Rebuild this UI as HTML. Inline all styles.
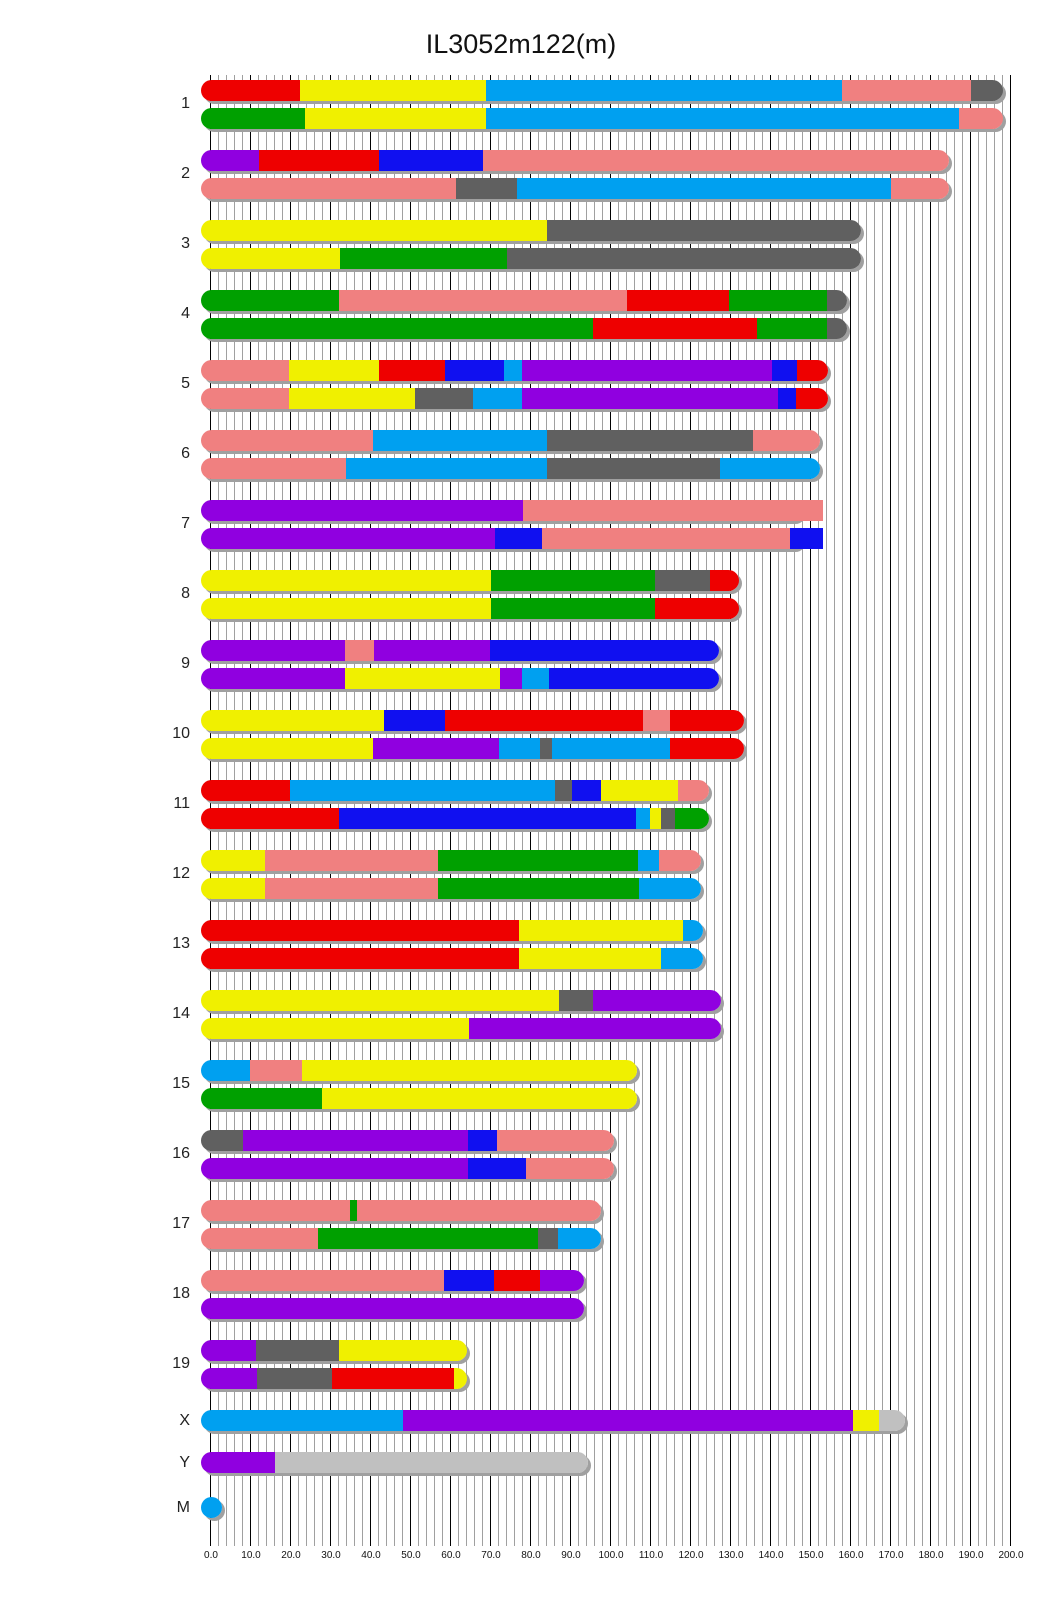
<!DOCTYPE html>
<html><head><meta charset="utf-8"><style>
body{margin:0;background:#fff;width:1040px;height:1616px;position:relative;overflow:hidden;font-family:"Liberation Sans",sans-serif}
.grid{position:absolute;left:210px;top:75px;width:802px;height:1471px;
background:repeating-linear-gradient(to right,#000 0 1px,transparent 1px 40px),repeating-linear-gradient(to right,#a0a0a0 0 1px,transparent 1px 8px)}
.bar{position:absolute;left:201px;height:21px;border-radius:10.5px;overflow:hidden;box-shadow:3px 3px 0 #a0a0a0;display:flex}
.bar i{display:block;height:100%;flex:none}
.bar i:last-child{flex:1}
.ext{position:absolute;height:21px}
.r{background:#ee0000}.y{background:#f0f000}.b{background:#00a0f0}.p{background:#f08080}.d{background:#606060}
.g{background:#00a000}.u{background:#1010f0}.v{background:#9000e0}.l{background:#c0c0c0}
.lab{position:absolute;right:850px;font-size:16px;color:#222;transform:translateY(-50%)}
.t{position:absolute;top:1550px;font-size:10px;width:40px;margin-left:-20px;text-align:center;color:#111}
h1{position:absolute;top:29px;left:0;width:1042px;text-align:center;margin:0;font-weight:normal;font-size:27px;color:#111}
</style></head><body>
<h1>IL3052m122(m)</h1>
<div class="grid"></div>

<div class="bar" style="top:80px;width:802px"><i class="r" style="width:99px"></i><i class="y" style="width:186px"></i><i class="b" style="width:356px"></i><i class="p" style="width:129px"></i><i class="d"></i></div>
<div class="bar" style="top:108px;width:802px"><i class="g" style="width:104px"></i><i class="y" style="width:181px"></i><i class="b" style="width:473px"></i><i class="p"></i></div>

<div class="bar" style="top:150px;width:748px"><i class="v" style="width:58px"></i><i class="r" style="width:120px"></i><i class="u" style="width:104px"></i><i class="p"></i></div>
<div class="bar" style="top:178px;width:748px"><i class="p" style="width:255px"></i><i class="d" style="width:61px"></i><i class="b" style="width:374px"></i><i class="p"></i></div>

<div class="bar" style="top:220px;width:660px"><i class="y" style="width:346px"></i><i class="d"></i></div>
<div class="bar" style="top:248px;width:660px"><i class="y" style="width:139px"></i><i class="g" style="width:167px"></i><i class="d"></i></div>

<div class="bar" style="top:290px;width:646px"><i class="g" style="width:138px"></i><i class="p" style="width:288px"></i><i class="r" style="width:102px"></i><i class="g" style="width:98px"></i><i class="d"></i></div>
<div class="bar" style="top:318px;width:646px"><i class="g" style="width:392px"></i><i class="r" style="width:164px"></i><i class="g" style="width:70px"></i><i class="d"></i></div>

<div class="bar" style="top:360px;width:627px"><i class="p" style="width:88px"></i><i class="y" style="width:90px"></i><i class="r" style="width:66px"></i><i class="u" style="width:59px"></i><i class="b" style="width:18px"></i><i class="v" style="width:250px"></i><i class="u" style="width:25px"></i><i class="r"></i></div>
<div class="bar" style="top:388px;width:627px"><i class="p" style="width:88px"></i><i class="y" style="width:126px"></i><i class="d" style="width:58px"></i><i class="b" style="width:49px"></i><i class="v" style="width:256px"></i><i class="u" style="width:18px"></i><i class="r"></i></div>

<div class="bar" style="top:430px;width:619px"><i class="p" style="width:172px"></i><i class="b" style="width:174px"></i><i class="d" style="width:206px"></i><i class="p"></i></div>
<div class="bar" style="top:458px;width:619px"><i class="p" style="width:145px"></i><i class="b" style="width:201px"></i><i class="d" style="width:173px"></i><i class="b"></i></div>

<div class="bar" style="top:500px;width:602px"><i class="v" style="width:322px"></i><i class="p"></i></div>
<div class="bar" style="top:528px;width:602px"><i class="v" style="width:294px"></i><i class="u" style="width:47px"></i><i class="p" style="width:249px"></i><i class="u"></i></div>
<div class="ext p" style="top:500px;left:780px;width:43px"></div>
<div class="ext u" style="top:528px;left:790px;width:33px"></div>

<div class="bar" style="top:570px;width:538px"><i class="y" style="width:290px"></i><i class="g" style="width:164px"></i><i class="d" style="width:55px"></i><i class="r"></i></div>
<div class="bar" style="top:598px;width:538px"><i class="y" style="width:290px"></i><i class="g" style="width:164px"></i><i class="r"></i></div>

<div class="bar" style="top:640px;width:518px"><i class="v" style="width:144px"></i><i class="p" style="width:29px"></i><i class="v" style="width:116px"></i><i class="u"></i></div>
<div class="bar" style="top:668px;width:518px"><i class="v" style="width:144px"></i><i class="y" style="width:155px"></i><i class="v" style="width:22px"></i><i class="b" style="width:27px"></i><i class="u"></i></div>

<div class="bar" style="top:710px;width:543px"><i class="y" style="width:183px"></i><i class="u" style="width:61px"></i><i class="r" style="width:198px"></i><i class="p" style="width:27px"></i><i class="r"></i></div>
<div class="bar" style="top:738px;width:543px"><i class="y" style="width:172px"></i><i class="v" style="width:126px"></i><i class="b" style="width:41px"></i><i class="d" style="width:12px"></i><i class="b" style="width:118px"></i><i class="r"></i></div>

<div class="bar" style="top:780px;width:508px"><i class="r" style="width:89px"></i><i class="b" style="width:265px"></i><i class="d" style="width:17px"></i><i class="u" style="width:29px"></i><i class="y" style="width:77px"></i><i class="p"></i></div>
<div class="bar" style="top:808px;width:508px"><i class="r" style="width:138px"></i><i class="u" style="width:297px"></i><i class="b" style="width:14px"></i><i class="y" style="width:11px"></i><i class="d" style="width:14px"></i><i class="g"></i></div>

<div class="bar" style="top:850px;width:500px"><i class="y" style="width:64px"></i><i class="p" style="width:173px"></i><i class="g" style="width:200px"></i><i class="b" style="width:21px"></i><i class="p"></i></div>
<div class="bar" style="top:878px;width:500px"><i class="y" style="width:64px"></i><i class="p" style="width:173px"></i><i class="g" style="width:201px"></i><i class="b"></i></div>

<div class="bar" style="top:920px;width:502px"><i class="r" style="width:318px"></i><i class="y" style="width:164px"></i><i class="b"></i></div>
<div class="bar" style="top:948px;width:502px"><i class="r" style="width:318px"></i><i class="y" style="width:142px"></i><i class="b"></i></div>

<div class="bar" style="top:990px;width:520px"><i class="y" style="width:358px"></i><i class="d" style="width:34px"></i><i class="v"></i></div>
<div class="bar" style="top:1018px;width:520px"><i class="y" style="width:268px"></i><i class="v"></i></div>

<div class="bar" style="top:1060px;width:436px"><i class="b" style="width:49px"></i><i class="p" style="width:52px"></i><i class="y"></i></div>
<div class="bar" style="top:1088px;width:436px"><i class="g" style="width:121px"></i><i class="y"></i></div>

<div class="bar" style="top:1130px;width:413px"><i class="d" style="width:42px"></i><i class="v" style="width:225px"></i><i class="u" style="width:29px"></i><i class="p"></i></div>
<div class="bar" style="top:1158px;width:413px"><i class="v" style="width:267px"></i><i class="u" style="width:58px"></i><i class="p"></i></div>

<div class="bar" style="top:1200px;width:400px"><i class="p" style="width:149px"></i><i class="g" style="width:7px"></i><i class="p"></i></div>
<div class="bar" style="top:1228px;width:400px"><i class="p" style="width:117px"></i><i class="g" style="width:220px"></i><i class="d" style="width:20px"></i><i class="b"></i></div>

<div class="bar" style="top:1270px;width:383px"><i class="p" style="width:243px"></i><i class="u" style="width:50px"></i><i class="r" style="width:46px"></i><i class="v"></i></div>
<div class="bar" style="top:1298px;width:383px"><i class="v"></i></div>

<div class="bar" style="top:1340px;width:266px"><i class="v" style="width:55px"></i><i class="d" style="width:83px"></i><i class="y"></i></div>
<div class="bar" style="top:1368px;width:266px"><i class="v" style="width:56px"></i><i class="d" style="width:75px"></i><i class="r" style="width:122px"></i><i class="y"></i></div>

<div class="bar" style="top:1410px;width:704px"><i class="b" style="width:202px"></i><i class="v" style="width:450px"></i><i class="y" style="width:26px"></i><i class="l"></i></div>
<div class="bar" style="top:1452px;width:387px"><i class="v" style="width:74px"></i><i class="l"></i></div>
<div class="bar" style="top:1497px;width:21px"><i class="b"></i></div>

<div class="lab" style="top:104px">1</div>
<div class="lab" style="top:174px">2</div>
<div class="lab" style="top:244px">3</div>
<div class="lab" style="top:314px">4</div>
<div class="lab" style="top:384px">5</div>
<div class="lab" style="top:454px">6</div>
<div class="lab" style="top:524px">7</div>
<div class="lab" style="top:594px">8</div>
<div class="lab" style="top:664px">9</div>
<div class="lab" style="top:734px">10</div>
<div class="lab" style="top:804px">11</div>
<div class="lab" style="top:874px">12</div>
<div class="lab" style="top:944px">13</div>
<div class="lab" style="top:1014px">14</div>
<div class="lab" style="top:1084px">15</div>
<div class="lab" style="top:1154px">16</div>
<div class="lab" style="top:1224px">17</div>
<div class="lab" style="top:1294px">18</div>
<div class="lab" style="top:1364px">19</div>
<div class="lab" style="top:1421px">X</div>
<div class="lab" style="top:1463px">Y</div>
<div class="lab" style="top:1508px">M</div>

<div class="t" style="left:211px">0.0</div><div class="t" style="left:251px">10.0</div><div class="t" style="left:291px">20.0</div><div class="t" style="left:331px">30.0</div><div class="t" style="left:371px">40.0</div><div class="t" style="left:411px">50.0</div><div class="t" style="left:451px">60.0</div><div class="t" style="left:491px">70.0</div><div class="t" style="left:531px">80.0</div><div class="t" style="left:571px">90.0</div><div class="t" style="left:611px">100.0</div><div class="t" style="left:651px">110.0</div><div class="t" style="left:691px">120.0</div><div class="t" style="left:731px">130.0</div><div class="t" style="left:771px">140.0</div><div class="t" style="left:811px">150.0</div><div class="t" style="left:851px">160.0</div><div class="t" style="left:891px">170.0</div><div class="t" style="left:931px">180.0</div><div class="t" style="left:971px">190.0</div><div class="t" style="left:1011px">200.0</div>
</body></html>
